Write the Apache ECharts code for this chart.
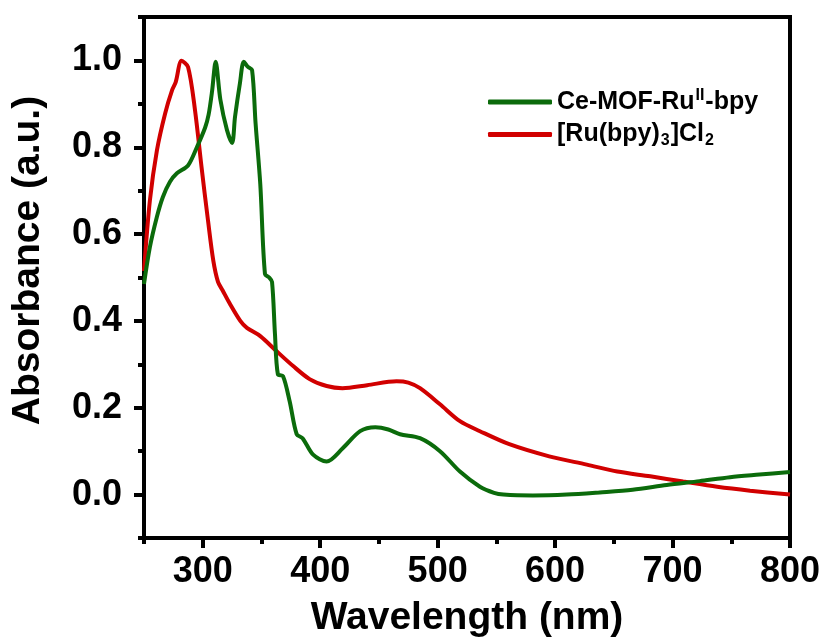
<!DOCTYPE html>
<html>
<head>
<meta charset="utf-8">
<script src="https://cdn.jsdelivr.net/npm/echarts@6/dist/echarts.min.js"></script>
<style>html,body{margin:0;padding:0;background:#fff}#c{width:826px;height:640px}</style>
</head>
<body>
<div id="c"></div>
<script>
// Ce-MOF-Ru(II)-bpy
const greenWavelength = [250, 255, 261, 266, 272, 278, 287.5, 295, 302, 305, 308, 311, 315, 320.6, 325, 327.5, 331.7, 335, 338.5, 342, 345, 349, 353, 356.6, 359, 361.5, 364, 368.3, 374, 380, 385, 394, 405.5, 419, 434, 447, 458, 468, 485, 502, 519, 536, 548, 556, 581, 610, 638, 666, 695, 723, 749, 774, 800];
const greenAbs = [0.485, 0.57, 0.64, 0.685, 0.72, 0.74, 0.758, 0.80, 0.845, 0.875, 0.93, 0.997, 0.91, 0.84, 0.81, 0.87, 0.948, 0.997, 0.985, 0.978, 0.855, 0.715, 0.508, 0.50, 0.49, 0.37, 0.277, 0.273, 0.215, 0.139, 0.13, 0.092, 0.076, 0.106, 0.146, 0.155, 0.15, 0.139, 0.13, 0.10, 0.053, 0.018, 0.004, 0.0, -0.002, 0.0, 0.005, 0.011, 0.022, 0.031, 0.04, 0.046, 0.052];
// [Ru(bpy)3]Cl2
const redWavelength = [250, 255, 261, 268, 274, 277, 282, 287.5, 293.4, 299, 304.5, 309, 313, 317, 323, 332, 337.6, 349, 363, 377, 391, 405.5, 419, 440, 465, 475, 485, 502, 519, 536, 561, 595, 627, 653, 681, 709, 738, 766, 800];
const redAbs = [0.515, 0.677, 0.793, 0.878, 0.932, 0.95, 0.999, 0.985, 0.886, 0.754, 0.631, 0.539, 0.49, 0.47, 0.44, 0.40, 0.384, 0.365, 0.33, 0.296, 0.266, 0.25, 0.245, 0.252, 0.261, 0.258, 0.245, 0.208, 0.169, 0.146, 0.116, 0.088, 0.069, 0.053, 0.042, 0.030, 0.018, 0.009, 0.0];

const seriesNames = ['Ce-MOF-Ru(II)-bpy', '[Ru(bpy)3]Cl2'];
const xMajorTicks = [300, 400, 500, 600, 700, 800];
const xMinorTicks = [250, 350, 450, 550, 650, 750];
const yMajorTicks = [0.0, 0.2, 0.4, 0.6, 0.8, 1.0];
const yMinorTicks = [-0.1, 0.1, 0.3, 0.5, 0.7, 0.9, 1.1];

const FONT = 'Liberation Sans, Arial, sans-serif';
const GREEN = '#0b6b0b';
const RED = '#d10000';

const chart = echarts.init(document.getElementById('c'), null, {renderer: 'canvas'});

const zip = (xs, ys) => xs.map((x, i) => [x, ys[i]]);

const axisCommonX = {
  type: 'value', min: 250, max: 800, position: 'bottom',
  splitLine: {show: false},
  axisLine: {show: false, onZero: false}
};
const axisCommonY = {
  type: 'value', min: -0.1, max: 1.1, position: 'left',
  splitLine: {show: false},
  axisLine: {show: false, onZero: false}
};

const option = {
  backgroundColor: '#fff',
  animation: false,
  grid: {
    left: 144, right: 36, top: 17, bottom: 102,
    containLabel: false, outerBoundsMode: 'none',
    show: true, borderColor: '#000', borderWidth: 4, backgroundColor: 'transparent'
  },
  xAxis: [
    Object.assign({}, axisCommonX, {
      name: 'Wavelength (nm)', nameLocation: 'middle', nameGap: 61,
      nameTextStyle: {fontFamily: FONT, fontWeight: 'bold', fontSize: 39, color: '#000'},
      axisTick: {show: true, inside: false, length: 10, customValues: xMajorTicks, lineStyle: {color: '#000', width: 4}},
      axisLabel: {show: true, customValues: xMajorTicks, margin: 16, fontFamily: FONT, fontWeight: 'bold', fontSize: 36, color: '#000'}
    }),
    Object.assign({}, axisCommonX, {
      axisTick: {show: true, inside: false, length: 6, customValues: xMinorTicks, lineStyle: {color: '#000', width: 4}},
      axisLabel: {show: false}
    })
  ],
  yAxis: [
    Object.assign({}, axisCommonY, {
      name: 'Absorbance (a.u.)', nameLocation: 'middle', nameGap: 96, nameRotate: 90,
      nameTextStyle: {fontFamily: FONT, fontWeight: 'bold', fontSize: 39, color: '#000', padding: [0, 0, 0, 34]},
      axisTick: {show: true, inside: false, length: 10, customValues: yMajorTicks, lineStyle: {color: '#000', width: 4}},
      axisLabel: {show: true, customValues: yMajorTicks, margin: 22, fontFamily: FONT, fontWeight: 'bold', fontSize: 36, color: '#000',
        formatter: v => v.toFixed(1)}
    }),
    Object.assign({}, axisCommonY, {
      axisTick: {show: true, inside: false, length: 6, customValues: yMinorTicks, lineStyle: {color: '#000', width: 4}},
      axisLabel: {show: false}
    })
  ],
  legend: {
    orient: 'vertical', left: 488, top: 88, padding: 0,
    itemWidth: 64, itemHeight: 5, itemGap: 6,
    icon: 'roundRect',
    data: seriesNames,
    textStyle: {
      fontFamily: FONT, fontWeight: 'bold', fontSize: 25, color: '#000',
      rich: {
        n: {fontFamily: FONT, fontWeight: 'bold', fontSize: 25, color: '#000', lineHeight: 28},
        sup: {fontFamily: FONT, fontWeight: 'bold', fontSize: 16, color: '#000', verticalAlign: 'top', lineHeight: 28, padding: [0, 1, 10, 1]},
        sub: {fontFamily: FONT, fontWeight: 'bold', fontSize: 16, color: '#000', verticalAlign: 'bottom', lineHeight: 28, padding: [12, 1, 0, 1]}
      }
    },
    formatter: function (name) {
      if (name === seriesNames[0]) return '{n|Ce-MOF-Ru}{sup|II}{n|-bpy}';
      return '{n|[Ru(bpy)}{sub|3}{n|]Cl}{sub|2}';
    }
  },
  series: [
    {
      name: seriesNames[0], type: 'line', xAxisIndex: 0, yAxisIndex: 0,
      data: zip(greenWavelength, greenAbs), showSymbol: false, smooth: 0.3,
      lineStyle: {color: GREEN, width: 4}, itemStyle: {color: GREEN}, z: 3
    },
    {
      name: seriesNames[1], type: 'line', xAxisIndex: 0, yAxisIndex: 0,
      data: zip(redWavelength, redAbs), showSymbol: false, smooth: 0.3,
      lineStyle: {color: RED, width: 4}, itemStyle: {color: RED}, z: 2
    }
  ]
};
chart.setOption(option);
</script>
</body>
</html>
